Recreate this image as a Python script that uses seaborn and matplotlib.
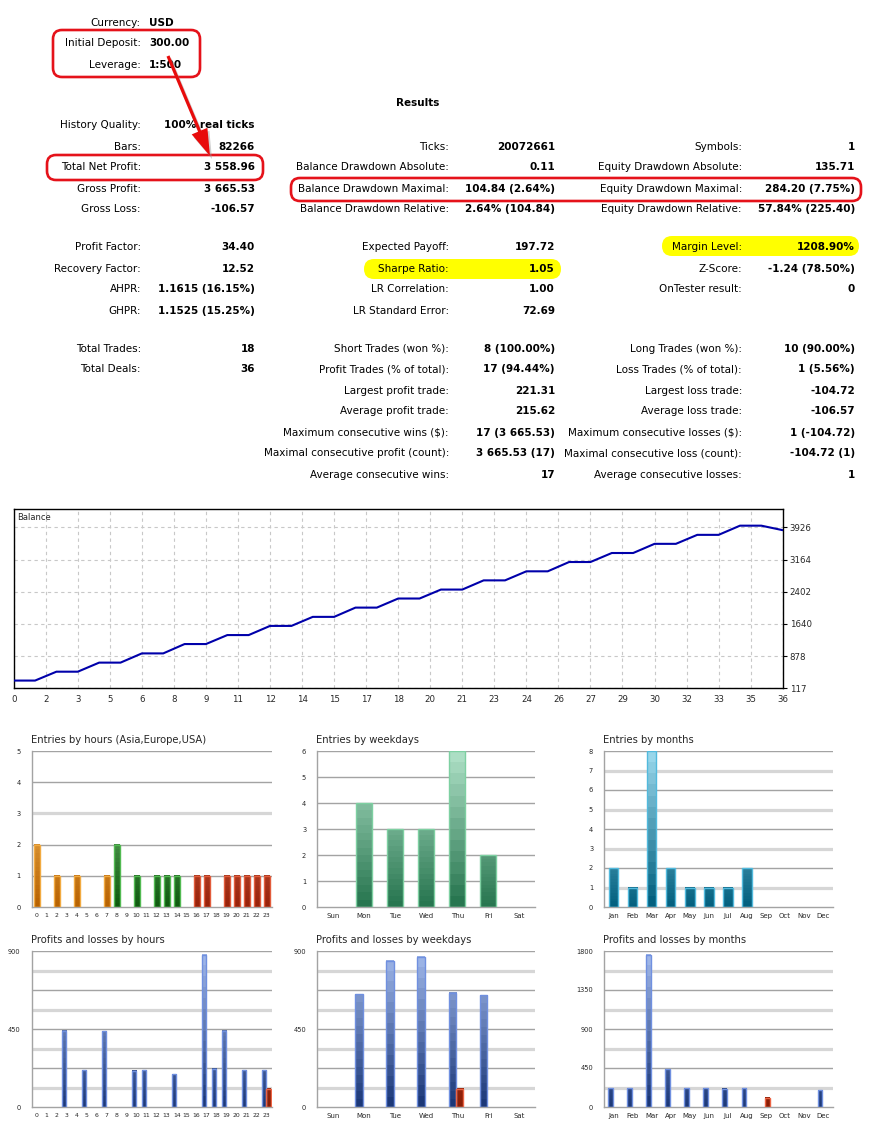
import numpy as np
import pandas as pd
import matplotlib
matplotlib.use("Agg")
import matplotlib.pyplot as plt
import seaborn as sns
from matplotlib.colors import LinearSegmentedColormap
from matplotlib.patches import FancyBboxPatch, FancyArrow

# ---------------- data ----------------
header_labels = ["Currency:", "Initial Deposit:", "Leverage:"]
header_values = ["USD", "300.00", "1:500"]

a1_labels = ["History Quality:", "Bars:", "Total Net Profit:", "Gross Profit:", "Gross Loss:"]
a1_values = ["100% real ticks", "82266", "3 558.96", "3 665.53", "-106.57"]
a2_labels = ["Ticks:", "Balance Drawdown Absolute:", "Balance Drawdown Maximal:", "Balance Drawdown Relative:"]
a2_values = ["20072661", "0.11", "104.84 (2.64%)", "2.64% (104.84)"]
a3_labels = ["Symbols:", "Equity Drawdown Absolute:", "Equity Drawdown Maximal:", "Equity Drawdown Relative:"]
a3_values = ["1", "135.71", "284.20 (7.75%)", "57.84% (225.40)"]

b1_labels = ["Profit Factor:", "Recovery Factor:", "AHPR:", "GHPR:"]
b1_values = ["34.40", "12.52", "1.1615 (16.15%)", "1.1525 (15.25%)"]
b2_labels = ["Expected Payoff:", "Sharpe Ratio:", "LR Correlation:", "LR Standard Error:"]
b2_values = ["197.72", "1.05", "1.00", "72.69"]
b3_labels = ["Margin Level:", "Z-Score:", "OnTester result:"]
b3_values = ["1208.90%", "-1.24 (78.50%)", "0"]

c1_labels = ["Total Trades:", "Total Deals:"]
c1_values = ["18", "36"]
c2_labels = ["Short Trades (won %):", "Profit Trades (% of total):", "Largest profit trade:",
             "Average profit trade:", "Maximum consecutive wins ($):",
             "Maximal consecutive profit (count):", "Average consecutive wins:"]
c2_values = ["8 (100.00%)", "17 (94.44%)", "221.31", "215.62", "17 (3 665.53)", "3 665.53 (17)", "17"]
c3_labels = ["Long Trades (won %):", "Loss Trades (% of total):", "Largest loss trade:",
             "Average loss trade:", "Maximum consecutive losses ($):",
             "Maximal consecutive loss (count):", "Average consecutive losses:"]
c3_values = ["10 (90.00%)", "1 (5.56%)", "-104.72", "-106.57", "1 (-104.72)", "-104.72 (1)", "1"]

balance_deals = [0, 1, 2, 3, 4, 5, 6, 7, 8, 9, 10, 11, 12, 13, 14, 15, 16, 17, 18,
                 19, 20, 21, 22, 23, 24, 25, 26, 27, 28, 29, 30, 31, 32, 33, 34, 35, 36]
balance_values = [300.00, 300.00, 510.12, 510.12, 724.62, 724.62, 942.92, 942.92,
                  1164.23, 1164.23, 1376.63, 1376.63, 1593.38, 1593.38, 1807.28, 1807.28,
                  2026.48, 2026.48, 2241.58, 2241.58, 2453.38, 2453.38, 2670.98, 2670.98,
                  2885.28, 2885.28, 3105.38, 3105.38, 3318.63, 3318.63, 3535.53, 3535.53,
                  3748.23, 3748.23, 3965.53, 3965.53, 3858.96]
balance_xtick_labels = ["0", "2", "3", "5", "6", "8", "9", "11", "12", "14", "15", "17", "18",
                        "20", "21", "23", "24", "26", "27", "29", "30", "32", "33", "35", "36"]
balance_yticks = [117, 878, 1640, 2402, 3164, 3926]

hours = ["0", "1", "2", "3", "4", "5", "6", "7", "8", "9", "10", "11",
         "12", "13", "14", "15", "16", "17", "18", "19", "20", "21", "22", "23"]
hour_sessions = ["Asia"] * 8 + ["Europe"] * 8 + ["USA"] * 8
entries_hours = [2, 0, 1, 0, 1, 0, 0, 1, 2, 0, 1, 0, 1, 1, 1, 0, 1, 1, 0, 1, 1, 1, 1, 1]
weekdays = ["Sun", "Mon", "Tue", "Wed", "Thu", "Fri", "Sat"]
entries_weekdays = [0, 4, 3, 3, 6, 2, 0]
months = ["Jan", "Feb", "Mar", "Apr", "May", "Jun", "Jul", "Aug", "Sep", "Oct", "Nov", "Dec"]
entries_months = [2, 1, 8, 2, 1, 1, 1, 2, 0, 0, 0, 0]

profit_hours = [0, 0, 0, 439, 0, 213, 0, 436, 0, 0, 209, 213, 0, 0, 190, 0, 0, 877, 221, 439, 0, 213, 0, 213]
loss_hours = [0, 0, 0, 0, 0, 0, 0, 0, 0, 0, 0, 0, 0, 0, 0, 0, 0, 0, 0, 0, 0, 0, 0, 106]
profit_weekdays = [0, 651, 843, 868, 658, 645, 0]
loss_weekdays = [0, 0, 0, 0, 106, 0, 0]
profit_months = [215, 215, 1758, 435, 215, 219, 211, 215, 0, 0, 0, 192]
loss_months = [0, 0, 0, 0, 0, 0, 0, 0, 104, 0, 0, 0]

# ---------------- style ----------------
sns.set_theme(style="white")
plt.rcParams['font.family'] = ['DejaVu Sans']

W, H = 870, 1140
fig = plt.figure(figsize=(W / 100, H / 100), dpi=100)
fig.patch.set_facecolor("white")

ov = fig.add_axes([0, 0, 1, 1])
ov.set_xlim(0, W)
ov.set_ylim(H, 0)
ov.axis("off")

FS = 7.5
RED = "#e5121a"


def txt(x, y, s, ha, bold=False, size=FS):
    ov.text(x, y, s, ha=ha, va="center", fontsize=size,
            fontweight="bold" if bold else "normal", color="black", zorder=5)


def rrect(x0, y0, x1, y1, r, fc="none", ec="none", lw=0, z=3):
    ov.add_patch(FancyBboxPatch((x0, y0), x1 - x0, y1 - y0,
                                boxstyle=f"round,pad=0,rounding_size={r}",
                                fc=fc, ec=ec, lw=lw, zorder=z))


# highlights
rrect(364, 259, 561, 279, 10, fc="#ffff00", z=1)
rrect(662, 236, 859, 256, 10, fc="#ffff00", z=1)

# header block
for lab, val, y in zip(header_labels, header_values, [22.5, 43.5, 64.5]):
    txt(141, y, lab, "right")
    txt(149, y, val, "left", bold=True)

txt(418, 103, "Results", "center", bold=True)

rows_a = [125.5, 146.5, 167.5, 188.5, 209.5]
for lab, val, y in zip(a1_labels, a1_values, rows_a):
    txt(141, y, lab, "right")
    txt(255, y, val, "right", bold=True)
for lab, val, y in zip(a2_labels, a2_values, rows_a[1:]):
    txt(449, y, lab, "right")
    txt(555, y, val, "right", bold=True)
for lab, val, y in zip(a3_labels, a3_values, rows_a[1:]):
    txt(742, y, lab, "right")
    txt(855, y, val, "right", bold=True)

rows_b = [247.5, 268.5, 289.5, 310.5]
for lab, val, y in zip(b1_labels, b1_values, rows_b):
    txt(141, y, lab, "right")
    txt(255, y, val, "right", bold=True)
for lab, val, y in zip(b2_labels, b2_values, rows_b):
    txt(449, y, lab, "right")
    txt(555, y, val, "right", bold=True)
for lab, val, y in zip(b3_labels, b3_values, rows_b):
    txt(742, y, lab, "right")
    txt(855, y, val, "right", bold=True)

rows_c = [348.5, 369.5, 390.5, 411.5, 432.5, 453.5, 474.5]
for lab, val, y in zip(c1_labels, c1_values, rows_c):
    txt(141, y, lab, "right")
    txt(255, y, val, "right", bold=True)
for lab, val, y in zip(c2_labels, c2_values, rows_c):
    txt(449, y, lab, "right")
    txt(555, y, val, "right", bold=True)
for lab, val, y in zip(c3_labels, c3_values, rows_c):
    txt(742, y, lab, "right")
    txt(855, y, val, "right", bold=True)

# red annotations
rrect(53, 30, 200, 77, 9, ec=RED, lw=1.9, z=6)
rrect(47, 155, 263, 180, 9, ec=RED, lw=1.9, z=6)
rrect(291, 178, 861, 201, 9, ec=RED, lw=1.9, z=6)
ov.add_patch(FancyArrow(170, 59, 42, 100, width=3.2, head_width=17, head_length=27,
                        length_includes_head=True, color="#999999", alpha=0.45, lw=0, zorder=6))
ov.add_patch(FancyArrow(168, 56, 42, 100, width=3.2, head_width=17, head_length=27,
                        length_includes_head=True, color="#e80c0c", lw=0, zorder=7))


def px_axes(x0, y0, x1, y1):
    return fig.add_axes([x0 / W, 1 - y1 / H, (x1 - x0) / W, (y1 - y0) / H])


# ---------------- balance chart ----------------
axb = px_axes(13.7, 509, 782.7, 688.3)
sns.lineplot(x=balance_deals, y=balance_values, ax=axb, color="#0000aa",
             lw=1.5, estimator=None, zorder=3)
axb.set_xlim(0, 36)
axb.set_ylim(117, 4360)
axb.set_xticks(np.arange(len(balance_xtick_labels)) * 1.5)
axb.set_xticklabels(balance_xtick_labels)
axb.set_yticks(balance_yticks)
axb.set_yticklabels([str(v) for v in balance_yticks])
axb.yaxis.tick_right()
axb.tick_params(axis="both", labelsize=6.2, length=3, width=0.8, color="black", pad=2)
axb.grid(True, color="#c8c8c8", ls=(0, (3, 3)), lw=0.8)
for s in axb.spines.values():
    s.set_color("black")
    s.set_linewidth(1.0)
    s.set_visible(True)
axb.text(0.004, 0.955, "Balance", transform=axb.transAxes, fontsize=6, va="center", ha="left")
axb.set_xlabel("")
axb.set_ylabel("")


# ---------------- bar charts ----------------
def cmap(c0, c1):
    return LinearSegmentedColormap.from_list("g", [c0, c1])


CM = {
    "Asia": (cmap("#b86200", "#ffcc70"), "#f2aa40"),
    "Europe": (cmap("#0f5a0f", "#8ad08a"), "#52ba52"),
    "USA": (cmap("#98220a", "#f08a6a"), "#e25c3c"),
    "week": (cmap("#287650", "#acdec4"), "#7ed0a2"),
    "month": (cmap("#03607f", "#98d6ea"), "#52badd"),
    "profit": (cmap("#1c3878", "#a0b8ea"), "#7090e0"),
    "loss": (cmap("#8a1e06", "#e05030"), "#ec6444"),
}
DARK = "#a3a3a3"
LIGHT = "#d6d6d6"


def gradient_bars(ax, patches, keys, ymax, shift=0.0):
    for p, k in zip(patches, keys):
        h = p.get_height()
        if not np.isfinite(h) or h <= 0:
            p.set_visible(False)
            continue
        p.set_x(p.get_x() + shift)
        x0, w = p.get_x(), p.get_width()
        cm, bc = CM[k]
        grad = np.linspace(0, h / ymax, 14).reshape(-1, 1)
        ax.imshow(grad, extent=(x0, x0 + w, 0, h), origin="lower", aspect="auto",
                  cmap=cm, vmin=0, vmax=1, interpolation="nearest", zorder=2)
        p.set_facecolor("none")
        p.set_edgecolor(bc)
        p.set_linewidth(1.0)
        p.set_zorder(3)


def style_panel(ax, cats, ymax, ytick_vals, grid_lines, xlabsize):
    n = len(cats)
    ax.set_xlim(-0.5, n - 0.5)
    ax.set_ylim(0, ymax)
    for y, kind in grid_lines:
        if kind == "d":
            ax.axhline(y, color=DARK, lw=1.0, zorder=0.5)
        else:
            ax.axhline(y, color=LIGHT, lw=2.3, zorder=0.5)
    ax.set_xticks(range(n))
    ax.set_xticklabels(cats)
    ax.set_xticks(np.arange(n + 1) - 0.5, minor=True)
    ax.tick_params(axis="x", which="major", length=0, labelsize=xlabsize, pad=4)
    ax.tick_params(axis="x", which="minor", length=3, color=DARK, width=0.8)
    ax.set_yticks(ytick_vals)
    ax.set_yticklabels([str(v) for v in ytick_vals])
    ax.tick_params(axis="y", length=3, color=DARK, width=0.8, labelsize=4.8, pad=5)
    for s in ["top", "right"]:
        ax.spines[s].set_visible(False)
    for s in ["left", "bottom"]:
        ax.spines[s].set_visible(True)
        ax.spines[s].set_color(DARK)
        ax.spines[s].set_linewidth(1.0)
    ax.set_xlabel("")
    ax.set_ylabel("")
    ax.set_facecolor("white")


col_x = [(31.7, 271.7), (317.3, 535.0), (604.3, 832.7)]
row1 = (751, 907)
row2 = (951, 1107)

# entries by hours
ax = px_axes(col_x[0][0], row1[0], col_x[0][1], row1[1])
df = pd.DataFrame({"cat": hours, "val": entries_hours})
sns.barplot(data=df, x="cat", y="val", order=hours, ax=ax, color="white", width=0.58)
gradient_bars(ax, ax.patches, hour_sessions, 5)
style_panel(ax, hours, 5, [0, 1, 2, 3, 4, 5],
            [(1, "d"), (2, "d"), (3, "l"), (4, "d"), (5, "d")], 4.4)

# entries by weekdays
ax = px_axes(col_x[1][0], row1[0], col_x[1][1], row1[1])
df = pd.DataFrame({"cat": weekdays, "val": entries_weekdays})
sns.barplot(data=df, x="cat", y="val", order=weekdays, ax=ax, color="white", width=0.52)
gradient_bars(ax, ax.patches, ["week"] * 7, 6)
style_panel(ax, weekdays, 6, [0, 1, 2, 3, 4, 5, 6],
            [(1, "d"), (2, "d"), (3, "d"), (4, "d"), (5, "d"), (6, "d")], 5.0)

# entries by months
ax = px_axes(col_x[2][0], row1[0], col_x[2][1], row1[1])
df = pd.DataFrame({"cat": months, "val": entries_months})
sns.barplot(data=df, x="cat", y="val", order=months, ax=ax, color="white", width=0.48)
gradient_bars(ax, ax.patches, ["month"] * 12, 8)
style_panel(ax, months, 8, [0, 1, 2, 3, 4, 5, 6, 7, 8],
            [(1, "l"), (2, "d"), (3, "l"), (4, "d"), (5, "l"), (6, "d"), (7, "l"), (8, "d")], 5.0)


def pl_panel(ax, cats, prof, loss, ymax, yt, grid, width, shift, xls):
    df = pd.DataFrame({"cat": cats * 2, "val": prof + loss,
                       "kind": ["profit"] * len(cats) + ["loss"] * len(cats)})
    sns.barplot(data=df, x="cat", y="val", hue="kind", order=cats,
                hue_order=["profit", "loss"], palette={"profit": "#3050a0", "loss": "#a02810"},
                dodge=True, width=width, ax=ax, legend=False)
    for cont, key in zip(ax.containers, ["profit", "loss"]):
        gradient_bars(ax, list(cont), [key] * len(cats), ymax, shift)
    style_panel(ax, cats, ymax, yt, grid, xls)


g900 = [(112.5, "l"), (225, "d"), (337.5, "l"), (450, "d"), (562.5, "l"), (675, "d"), (787.5, "l"), (900, "d")]
g1800 = [(225, "l"), (450, "d"), (675, "l"), (900, "d"), (1125, "l"), (1350, "d"), (1575, "l"), (1800, "d")]

ax = px_axes(col_x[0][0], row2[0], col_x[0][1], row2[1])
pl_panel(ax, hours, profit_hours, loss_hours, 900, [0, 450, 900], g900, 0.88, -0.05, 4.4)

ax = px_axes(col_x[1][0], row2[0], col_x[1][1], row2[1])
pl_panel(ax, weekdays, profit_weekdays, loss_weekdays, 900, [0, 450, 900], g900, 0.48, -0.04, 5.0)

ax = px_axes(col_x[2][0], row2[0], col_x[2][1], row2[1])
pl_panel(ax, months, profit_months, loss_months, 1800, [0, 450, 900, 1350, 1800], g1800, 0.5, -0.04, 5.0)

# chart titles
titles_top = ["Entries by hours (Asia,Europe,USA)", "Entries by weekdays", "Entries by months"]
titles_bot = ["Profits and losses by hours", "Profits and losses by weekdays", "Profits and losses by months"]
for (x0, _), t1, t2 in zip(col_x, titles_top, titles_bot):
    ov.text(x0 - 1, 740, t1, ha="left", va="center", fontsize=7.2, zorder=5)
    ov.text(x0 - 1, 940, t2, ha="left", va="center", fontsize=7.2, zorder=5)

fig.savefig("out.png", dpi=100, facecolor="white")
